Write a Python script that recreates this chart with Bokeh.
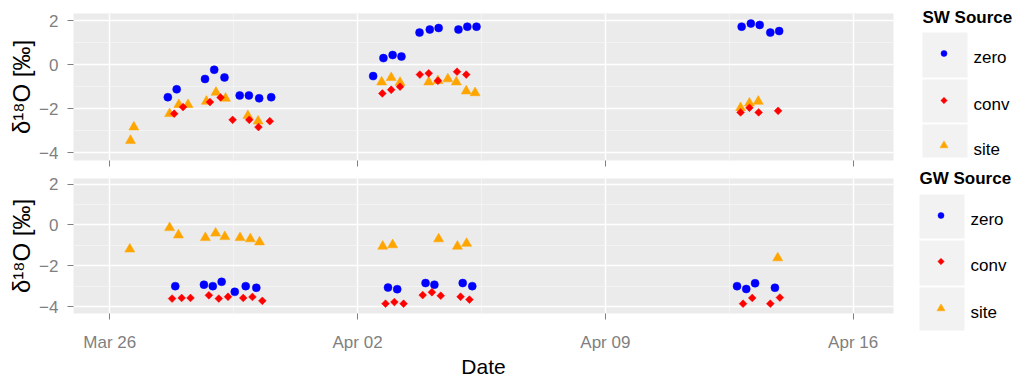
import math
import pandas as pd
from bokeh.plotting import figure
from bokeh.models import Range1d, FixedTicker, DatetimeTickFormatter, CustomJSTickFormatter
from bokeh.layouts import row, column
from bokeh.core.properties import value
from bokeh.embed import file_html
from bokeh.resources import INLINE

# ---------------- data (days after Mar 26, 00:00) ----------------
base_date = "2013-03-26"
sources = ["zero", "conv", "site"]
panel_titles = ["SW Source", "GW Source"]
tick_labels_dates = ["2013-03-26", "2013-04-02", "2013-04-09", "2013-04-16"]
minor_tick_dates = ["2013-03-29 12:00", "2013-04-05 12:00", "2013-04-12 12:00"]
y_ticks = [-4, -2, 0, 2]
y_minor = [-3, -1, 1]

sw_zero_day = [1.64, 1.89, 2.69, 2.95, 3.24, 3.67, 3.93, 4.22, 4.56,
               7.44, 7.73, 7.99, 8.24, 8.75, 9.04, 9.29, 9.85, 10.10, 10.36,
               17.85, 18.11, 18.36, 18.66, 18.91]
sw_zero_val = [-1.47, -1.11, -0.64, -0.22, -0.57, -1.39, -1.39, -1.52, -1.47,
               -0.51, 0.31, 0.45, 0.38, 1.47, 1.61, 1.68, 1.61, 1.74, 1.74,
               1.74, 1.88, 1.82, 1.47, 1.54]
sw_conv_day = [1.82, 2.07, 2.83, 3.13, 3.47, 3.94, 4.20, 4.52,
               7.70, 7.95, 8.20, 8.76, 9.01, 9.27, 9.81, 10.07,
               17.82, 18.07, 18.33, 18.88]
sw_conv_val = [-2.22, -1.92, -1.69, -1.48, -2.50, -2.50, -2.83, -2.56,
               -1.30, -1.13, -0.99, -0.44, -0.38, -0.72, -0.31, -0.44,
               -2.16, -1.95, -2.16, -2.09]
sw_site_day = [0.585, 0.68, 1.69, 1.95, 2.21, 2.73, 3.00, 3.27, 3.90, 4.19,
               7.68, 7.95, 8.20, 9.01, 9.27, 9.55, 9.79, 10.07, 10.32,
               17.82, 18.07, 18.32]
sw_site_val = [-3.44, -2.83, -2.22, -1.81, -1.81, -1.66, -1.25, -1.52, -2.31, -2.56,
               -0.78, -0.58, -0.80, -0.78, -0.72, -0.64, -0.78, -1.19, -1.27,
               -1.95, -1.74, -1.66]

gw_zero_day = [1.85, 2.66, 2.91, 3.16, 3.53, 3.84, 4.14,
               7.86, 8.12, 8.92, 9.17, 9.97, 10.24,
               17.72, 17.98, 18.23, 18.79]
gw_zero_val = [-3.00, -2.93, -3.00, -2.79, -3.28, -3.00, -3.08,
               -3.07, -3.15, -2.85, -2.93, -2.85, -3.00,
               -3.00, -3.14, -2.86, -3.08]
gw_conv_day = [1.76, 2.03, 2.28, 2.80, 3.08, 3.34, 3.77, 4.03, 4.31,
               7.79, 8.04, 8.30, 8.84, 9.10, 9.35, 9.91, 10.16,
               17.89, 18.15, 18.66, 18.93]
gw_conv_val = [-3.61, -3.58, -3.58, -3.45, -3.61, -3.52, -3.58, -3.53, -3.72,
               -3.86, -3.78, -3.86, -3.44, -3.30, -3.47, -3.52, -3.66,
               -3.86, -3.58, -3.86, -3.56]
gw_site_day = [0.565, 1.69, 1.94, 2.70, 2.99, 3.25, 3.68, 3.97, 4.23,
               7.71, 7.99, 9.29, 9.82, 10.08,
               18.87]
gw_site_val = [-1.19, -0.14, -0.50, -0.63, -0.41, -0.58, -0.63, -0.69, -0.84,
               -1.05, -0.98, -0.69, -1.05, -0.91,
               -1.62]

# ---------------- styling ----------------
FONT = "Liberation Sans"
colors = {"zero": "#0000FF", "conv": "#FF0000", "site": "#FFA500"}
markers = {"zero": "circle", "conv": "square", "site": "triangle"}
angles = {"zero": 0, "conv": math.pi / 4, "site": 0}
sizes = {"zero": 8, "conv": 5.5, "site": 10}
grey50 = "#7F7F7F"

t0 = pd.Timestamp(base_date)


def to_dt(days):
    return [t0 + pd.Timedelta(days=d) for d in days]


x_range = Range1d(t0 - pd.Timedelta(days=1.025), t0 + pd.Timedelta(days=22.14))
major_ms = [pd.Timestamp(d).value / 1e6 for d in tick_labels_dates]
minor_ms = [pd.Timestamp(d).value / 1e6 for d in minor_tick_dates]


def make_panel(height, top, bottom, yr, series, show_labels):
    p = figure(width=905, height=height, x_axis_type="datetime",
               x_range=x_range, y_range=Range1d(*yr),
               output_backend="svg", toolbar_location=None,
               min_border_left=73, min_border_right=12,
               min_border_top=top, min_border_bottom=bottom)
    p.background_fill_color = "#EBEBEB"
    p.border_fill_color = "white"
    p.outline_line_color = None

    p.xaxis.ticker = FixedTicker(ticks=major_ms, minor_ticks=minor_ms)
    p.yaxis.ticker = FixedTicker(ticks=y_ticks, minor_ticks=y_minor)
    p.grid.grid_line_color = "white"
    p.grid.grid_line_width = 1.4
    p.grid.minor_grid_line_color = "#F6F6F6"
    p.grid.minor_grid_line_width = 0.7

    for ax in (p.xaxis[0], p.yaxis[0]):
        ax.axis_line_color = None
        ax.major_tick_line_color = grey50
        ax.major_tick_out = 6
        ax.major_tick_in = 0
        ax.minor_tick_out = 0
        ax.minor_tick_in = 0
        ax.major_label_text_color = grey50
        ax.major_label_text_font = FONT
        ax.major_label_text_font_size = "17px"
        ax.axis_label_text_font = FONT
        ax.axis_label_text_font_style = "normal"
        ax.axis_label_text_color = "black"

    p.yaxis.axis_label = "δ¹⁸O [‰]"
    p.yaxis.axis_label_text_font_size = "24px"
    p.yaxis.major_label_standoff = 9
    p.yaxis.axis_label_standoff = 1

    if show_labels:
        p.xaxis.formatter = DatetimeTickFormatter(days="%b %d", months="%b %d")
        p.xaxis.major_label_standoff = 13
        p.xaxis.axis_label = "Date"
        p.xaxis.axis_label_text_font_size = "21px"
        p.xaxis.axis_label_standoff = 0
    else:
        p.xaxis.formatter = CustomJSTickFormatter(code="return ''")
        p.xaxis.major_label_standoff = 0

    for src in ["site", "zero", "conv"]:
        d, v = series[src]
        p.scatter(to_dt(d), v, marker=markers[src], size=sizes[src], angle=angles[src],
                  fill_color=colors[src], line_color=colors[src], line_width=0.5)
    return p


sw = {"zero": (sw_zero_day, sw_zero_val), "conv": (sw_conv_day, sw_conv_val),
      "site": (sw_site_day, sw_site_val)}
gw = {"zero": (gw_zero_day, gw_zero_val), "conv": (gw_conv_day, gw_conv_val),
      "site": (gw_site_day, gw_site_val)}

p1 = make_panel(168, 13, 8, (-4.35, 2.34), sw, False)
p2 = make_panel(212, 10, 60, (-4.34, 2.27), gw, True)

# ---------------- legend column (coordinates are page pixels) ----------------
pl = figure(width=115, height=380, x_range=Range1d(905, 1020), y_range=Range1d(380, 0),
            output_backend="svg", toolbar_location=None, min_border=0,
            x_axis_location=None, y_axis_location=None)
pl.grid.visible = False
pl.outline_line_color = None
pl.background_fill_color = "white"
pl.border_fill_color = "white"

legend_layout = [
    # title_x, title_y, box_left, rows(top,bottom)
    (922, 17, 922, [(32, 77), (79, 122), (124, 157)]),
    (919, 178, 919, [(194, 238), (240, 285), (287, 330)]),
]
leg_sizes = {"zero": 6, "conv": 4.5, "site": 8}
for title, (tx, ty, bl, rows_) in zip(panel_titles, legend_layout):
    pl.text([tx], [ty], text=[title], text_font=value(FONT), text_font_style="bold",
            text_font_size="17px", text_baseline="middle", text_align="left", text_color="black")
    pl.quad(left=[bl] * 3, right=[bl + 45] * 3,
            top=[r[0] for r in rows_], bottom=[r[1] for r in rows_],
            fill_color="#F2F2F2", line_color=None)
    for src, (rt, rb) in zip(sources, rows_):
        cy = rt + 21
        pl.scatter([bl + 21.5], [cy], marker=markers[src], size=leg_sizes[src],
                   angle=angles[src],
                   fill_color=colors[src], line_color=colors[src], line_width=0.5)
        pl.text([bl + 51], [cy + 4], text=[src], text_font=value(FONT),
                text_font_size="17px", text_baseline="middle", text_align="left",
                text_color="black")

layout = row(column(p1, p2), pl)
open("out.html", "w").write(file_html(layout, INLINE))
